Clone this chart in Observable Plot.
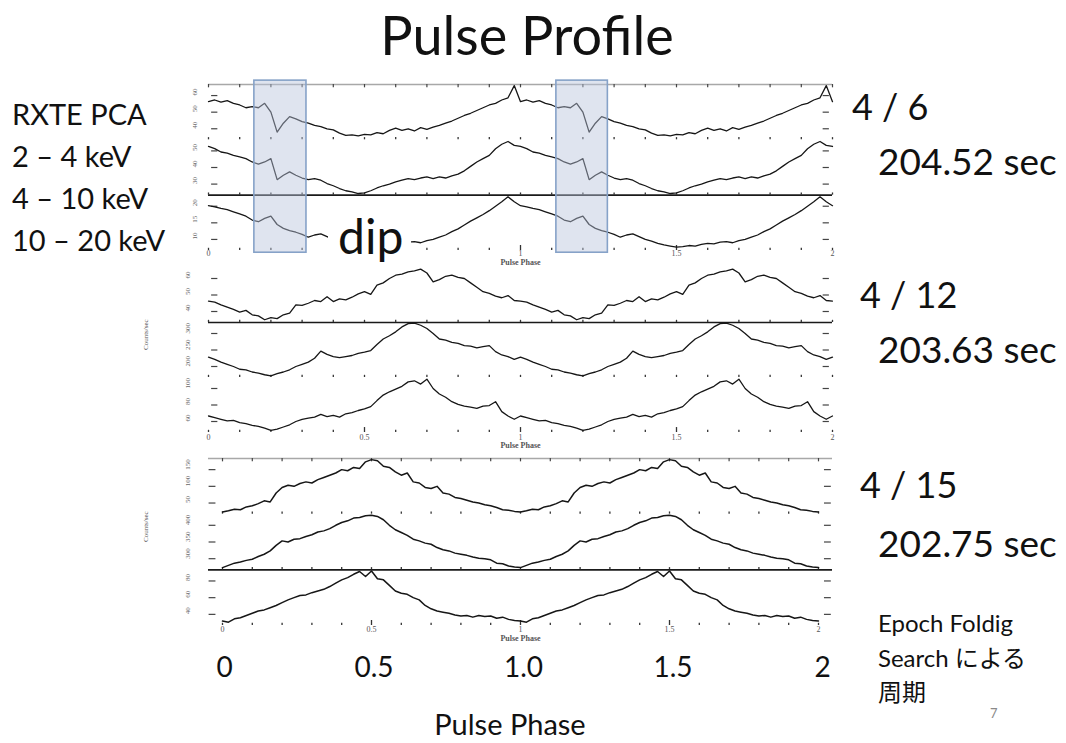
<!DOCTYPE html>
<html><head><meta charset="utf-8">
<script src="https://cdn.jsdelivr.net/npm/d3@7"></script>
<script src="https://cdn.jsdelivr.net/npm/@observablehq/plot@0.6"></script>
<style>
body{margin:0;background:#fff;}
#slide{position:relative;width:1066px;height:743px;overflow:hidden;background:#fff;font-family:Lato,"Noto Sans CJK JP",sans-serif;color:#111;}
.t{position:absolute;white-space:nowrap;line-height:1;}
.panel{position:absolute;}
.panel svg{display:block;}
</style></head><body><div id="slide"></div>
<script>
// ---- Data: folded pulse profiles, one cycle (50 phase bins), relative count level 0-100 within each strip ----
// 2006 4/6  (P = 204.52 s)
const prof0406_2_4 = [69,72,68,71,66,63,58,60,58,66,50,14,30,42,38,33,30,26,24,20,18,12,8,9,7,10,9,13,11,17,21,17,20,16,22,19,23,26,30,34,39,44,48,53,58,63,66,72,76,98];
const prof0406_4_10 = [88,84,78,76,72,69,66,60,56,60,66,28,36,42,36,31,28,30,27,21,17,12,8,6,3,4,8,13,17,20,24,27,30,28,31,33,30,33,31,35,38,44,52,60,66,72,84,92,97,90];
const prof0406_10_20 = [81,79,76,74,70,66,62,55,52,58,62,47,40,36,33,29,24,28,30,25,20,17,13,10,8,6,7,9,8,11,13,12,15,16,14,18,20,24,28,34,39,46,53,59,65,72,80,88,97,88];
// 4/12 (P = 203.63 s)
const prof0412_2_4 = [39,37,32,28,24,19,22,14,12,5,9,7,14,17,32,31,35,40,38,47,38,43,41,46,52,56,51,68,72,80,86,88,92,94,97,90,74,78,84,86,82,80,72,64,56,53,48,45,49,40];
const prof0412_4_10 = [37,33,28,24,20,15,14,10,8,5,3,7,10,14,20,24,28,35,48,42,38,36,38,40,44,46,49,60,70,76,83,92,98,99,95,89,80,70,68,64,62,58,57,54,56,58,47,41,38,33];
const prof0412_10_20 = [30,27,24,21,22,18,16,13,11,8,4,6,10,14,20,24,26,28,33,29,31,28,34,36,40,43,47,58,68,74,79,84,92,94,88,97,80,70,64,56,51,48,46,44,48,49,56,38,30,24];
// 4/15 (P = 202.75 s)
const prof0415_2_4 = [4,6,9,8,13,15,19,24,22,38,48,52,50,55,58,56,62,66,70,74,80,78,84,82,94,98,96,86,84,76,70,74,58,56,48,46,50,38,36,30,28,25,22,20,17,15,12,8,7,5];
const prof0415_4_10 = [4,8,12,14,17,19,24,28,34,44,52,50,55,56,60,63,68,70,74,80,85,88,93,94,97,98,96,90,80,72,67,62,55,52,48,46,40,36,34,30,28,26,23,21,20,18,12,11,7,5];
const prof0415_10_20 = [8,6,12,14,18,22,26,28,32,36,41,46,50,54,55,59,62,65,70,76,82,86,92,97,88,98,84,82,72,62,58,56,50,46,36,30,26,24,22,19,17,18,15,18,16,17,13,15,11,9];

const energyBands = ["2 – 4 keV", "4 – 10 keV", "10 – 20 keV"];
const obsDates = ["4 / 6", "4 / 12", "4 / 15"];
const periods = ["204.52 sec", "203.63 sec", "202.75 sec"];
const dipWindows = [[0.147, 0.314], [1.115, 1.28]];
const panelTickPhases = [0, 0.5, 1, 1.5, 2];
const panelTickLabels = ["0", "0.5", "1", "1.5", "2"];
const p1TickLabels = ["0", "", "1", "1.5", "2"];
const bigTickLabels = ["0", "0.5", "1.0", "1.5", "2"];
const yTickPos = [20, 50, 80];
const p1YLabels = [["40","50","60"], ["30","40","50"], ["10","15","20"]];
const p2YLabels = [["40","50","60"], ["200","250","300"], ["60","80","100"]];
const p3YLabels = [["50","100","150"], ["300","350","400"], ["40","60","80"]];

const bins = 50;
function profile(vals, band) {
  return d3.range(2 * bins + 1).map(k => ({phase: k / bins, y: vals[k % bins] + band * 100}));
}
const phaseGrid = d3.range(0, 21).map(k => k / 10);
const slide = document.getElementById("slide");

function addText(str, x, y, size, opts = {}) {
  const d = document.createElement("div");
  d.className = "t";
  d.textContent = str;
  d.style.left = x + "px";
  d.style.top = y + "px";
  d.style.fontSize = size + "px";
  d.style.transform = opts.center ? "translate(-50%,-50%)" : "translateY(-50%)";
  if (opts.color) d.style.color = opts.color;
  if (opts.bg) { d.style.background = opts.bg; }
  slide.appendChild(d);
  return d;
}

function makePanel(cfg) {
  const data = cfg.curves.flatMap((vals, i) => profile(vals, 2 - i).map(d => ({...d, s: i})));
  const grid = [];
  for (const b of [0, 100, 200]) for (const x of phaseGrid) grid.push({x, y: b, big: b === 0 && (x === 0.5 || x === 1 || x === 1.5)});
  const yt = [];
  cfg.yLabels.forEach((labs, i) => labs.forEach((lab, j) => yt.push({y: (2 - i) * 100 + yTickPos[j], label: lab})));
  const tickLabels = cfg.tickLabels || panelTickLabels;
  const marks = [
    cfg.grayTop ? Plot.ruleY([300], {x1: cfg.xSpan[0], x2: cfg.xSpan[1], stroke: "#a8a8a8", strokeWidth: 1.4}) : null,
    cfg.grayTop ? Plot.ruleX(phaseGrid, {x: d => d, y1: 300, y2: 294, stroke: "#444", strokeWidth: 1.2}) : null,
    Plot.ruleY([cfg.solid], {x1: cfg.xSpan[0], x2: cfg.xSpan[1], stroke: "#1a1a1a", strokeWidth: 1.6}),
    Plot.ruleX(grid, {x: "x", y1: "y", y2: d => d.y + (d.big ? 9 : 4), stroke: "#333", strokeWidth: 1.3}),
    Plot.ruleY(yt, {y: "y", x1: cfg.dashL[0], x2: cfg.dashL[1], stroke: "#444", strokeWidth: 1.2}),
    Plot.ruleY(yt, {y: "y", x1: cfg.dashR[0], x2: cfg.dashR[1], stroke: "#444", strokeWidth: 1.2}),
    Plot.line(data, {x: "phase", y: "y", z: "s", curve: "linear", stroke: "#161616", strokeWidth: cfg.sw}),
    Plot.text(yt, {y: "y", text: "label", frameAnchor: "left", dx: -cfg.labPad, rotate: -90, fontSize: 7, fill: "#666"}),
    Plot.text(panelTickPhases, {x: d => d, text: (d, i) => tickLabels[i], frameAnchor: "bottom", dy: cfg.tickDy, fontSize: 8, fill: "#555"}),
    Plot.text(["Pulse Phase"], {x: () => 1, text: d => d, frameAnchor: "bottom", dy: cfg.labDy, fontSize: 8, fontWeight: "bold", fill: "#555"}),
    cfg.ytitle ? Plot.text([cfg.ytitle], {text: d => d, frameAnchor: "left", dx: cfg.titleDx, rotate: -90, fontSize: 7, fill: "#555"}) : null,
    ...(cfg.extra || [])
  ].filter(Boolean);
  const svg = Plot.plot({
    width: cfg.width, height: cfg.height,
    marginLeft: cfg.mL, marginRight: cfg.mR, marginTop: cfg.mT, marginBottom: cfg.mB,
    x: {domain: [0, 2], axis: null},
    y: {domain: [0, 300], axis: null},
    style: {background: cfg.bg || "transparent", fontFamily: "'Liberation Serif', serif", overflow: "visible"},
    marks
  });
  const wrap = document.createElement("div");
  wrap.className = "panel";
  wrap.style.left = cfg.left + "px";
  wrap.style.top = cfg.top + "px";
  wrap.appendChild(svg);
  slide.appendChild(wrap);
}

// Panel 1: 4/6
makePanel({
  left: 180, top: 75, width: 660, height: 195, mL: 28, mR: 8, mT: 9, mB: 20,
  curves: [prof0406_2_4, prof0406_4_10, prof0406_10_20], solid: 100, grayTop: true,
  xSpan: [0, 2], dashL: [0.01, 0.03], dashR: [1.97, 1.99], sw: 1.3,
  yLabels: p1YLabels, labPad: 14, tickDy: 5, labDy: 14, tickLabels: p1TickLabels,
  extra: [
    Plot.rect(dipWindows, {x1: d => d[0], x2: d => d[1], y1: -4, y2: 307, fill: "#b9c4dc", fillOpacity: 0.45, stroke: "#86a2c8", strokeWidth: 1.6})
  ]
});

// Panel 2: 4/12
makePanel({
  left: 130, top: 265, width: 710, height: 192, mL: 78, mR: 8, mT: 2, mB: 25, bg: "white",
  curves: [prof0412_2_4, prof0412_4_10, prof0412_10_20], solid: 200, grayTop: false,
  xSpan: [0, 2], dashL: [0.01, 0.03], dashR: [1.97, 1.99], sw: 1.3,
  yLabels: p2YLabels, labPad: 21, tickDy: 7, labDy: 15, ytitle: "Counts/sec", titleDx: -63
});

// Panel 3: 4/15
makePanel({
  left: 130, top: 452, width: 710, height: 195, mL: 92, mR: 22, mT: 6, mB: 22, bg: "white",
  curves: [prof0415_2_4, prof0415_4_10, prof0415_10_20], solid: 100, grayTop: true,
  xSpan: [-0.047, 2.047], dashL: [-0.045, -0.022], dashR: [2.02, 2.043], sw: 1.5,
  yLabels: p3YLabels, labPad: 35, tickDy: 6, labDy: 15, ytitle: "Counts/sec", titleDx: -77
});

// Slide-level phase axis
(function () {
  const svg = Plot.plot({
    width: 1066, height: 40, marginLeft: 224, marginRight: 244, marginTop: 0, marginBottom: 0,
    x: {domain: [0, 2], axis: null}, y: {axis: null},
    style: {background: "transparent", fontFamily: "Lato, sans-serif", overflow: "visible"},
    marks: [Plot.text(panelTickPhases, {x: d => d, text: (d, i) => bigTickLabels[i], fontSize: 28, fill: "#111"})]
  });
  const wrap = document.createElement("div");
  wrap.className = "panel"; wrap.style.left = "0px"; wrap.style.top = "648px";
  wrap.appendChild(svg); slide.appendChild(wrap);
})();

// Texts
addText("Pulse Profile", 527, 35, 54, {center: true});
addText("RXTE PCA", 12, 113, 29);
energyBands.forEach((t, i) => addText(t, 12, 155 + 42 * i, 29));
const dip = addText("dip", 328, 238, 48, {bg: "white"});
dip.style.padding = "0px 8px 4px 10px";
addText(obsDates[0], 852, 106, 36);
addText(periods[0], 878, 160, 37);
addText(obsDates[1], 860, 294, 36);
addText(periods[1], 878, 348, 37);
addText(obsDates[2], 860, 484, 36);
addText(periods[2], 878, 542, 37);
addText("Epoch Foldig", 878, 623, 24);
addText("Search による", 878, 658, 24);
addText("周期", 878, 692, 24);
addText("7", 990, 713, 13, {color: "#8a8a8a"});
addText("Pulse Phase", 510, 723, 29, {center: true});
</script></body></html>
